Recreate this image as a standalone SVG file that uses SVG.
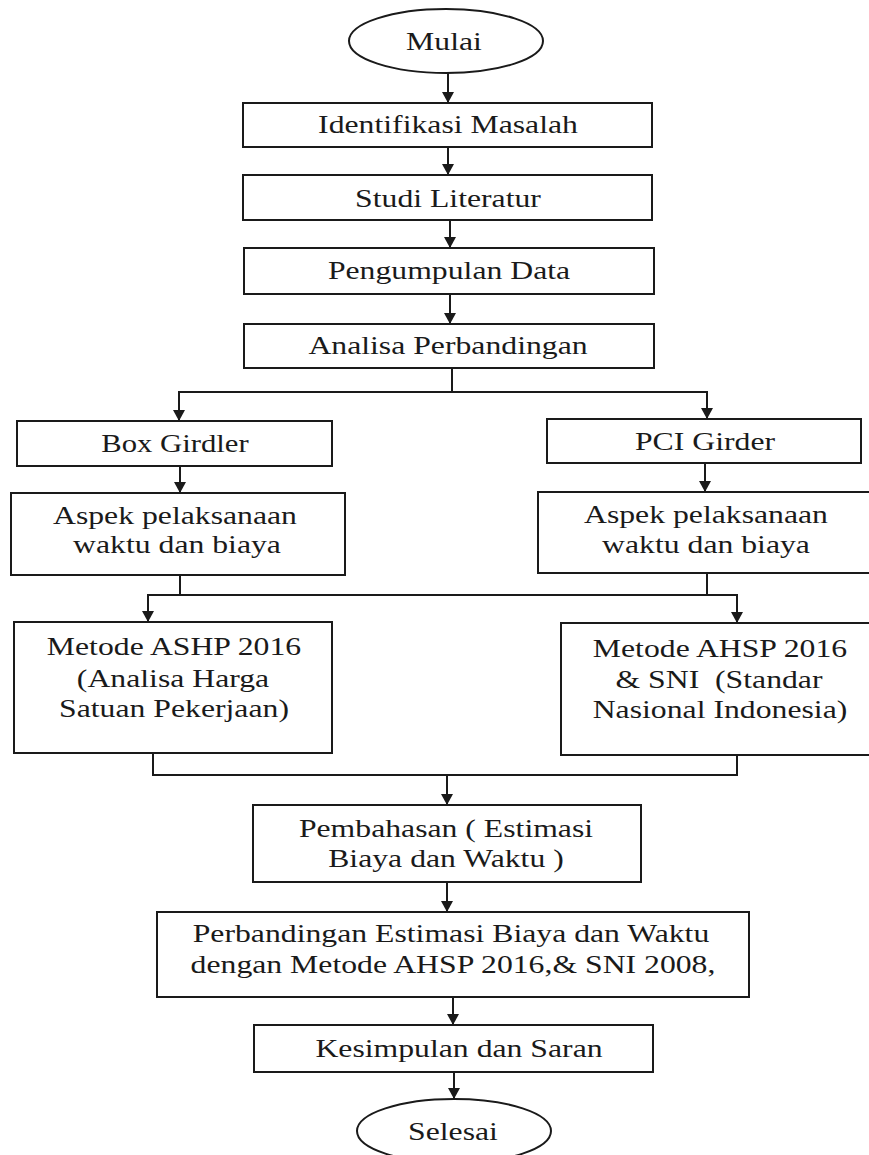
<svg xmlns="http://www.w3.org/2000/svg" width="869" height="1155" viewBox="0 0 869 1155">
<style>
.box{fill:#fff;stroke:#1a1a1a;stroke-width:2}
.ln{fill:none;stroke:#1a1a1a;stroke-width:2}
.t{font-family:"Liberation Serif","Times New Roman",serif;font-size:26px;fill:#1a1a1a;text-anchor:middle}
</style>
<defs>
<marker id="ah" viewBox="0 0 11 12" refX="11" refY="6" markerWidth="11" markerHeight="12" markerUnits="userSpaceOnUse" orient="auto">
<path d="M0,0 L11,6 L0,12 Z" fill="#1a1a1a"/>
</marker>
</defs>
<rect width="869" height="1155" fill="#fff"/>
<g id="connectors">
<path class="ln" d="M448,73 V103" marker-end="url(#ah)"/>
<path class="ln" d="M448,147 V175" marker-end="url(#ah)"/>
<path class="ln" d="M450,220 V248" marker-end="url(#ah)"/>
<path class="ln" d="M450,294 V324" marker-end="url(#ah)"/>
<path class="ln" d="M452,368 V392 H179 V421" marker-end="url(#ah)"/>
<path class="ln" d="M452,392 H707 V419" marker-end="url(#ah)"/>
<path class="ln" d="M180,466 V493" marker-end="url(#ah)"/>
<path class="ln" d="M705,463 V492" marker-end="url(#ah)"/>
<path class="ln" d="M180,575 V595 H148 V622" marker-end="url(#ah)"/>
<path class="ln" d="M180,595 H737 V623" marker-end="url(#ah)"/>
<path class="ln" d="M707,573 V595"/>
<path class="ln" d="M153,753 V775 H737 V754"/>
<path class="ln" d="M447,775 V805" marker-end="url(#ah)"/>
<path class="ln" d="M447,882 V912" marker-end="url(#ah)"/>
<path class="ln" d="M453,997 V1025" marker-end="url(#ah)"/>
<path class="ln" d="M454,1072 V1099" marker-end="url(#ah)"/>
</g>
<g id="mulai">
<ellipse class="box" cx="446" cy="41" rx="97" ry="32"/>
<text class="t" transform="translate(444,50) scale(1.22,1)">Mulai</text>
</g>
<g id="identifikasi">
<rect class="box" x="243" y="103" width="409" height="44"/>
<text class="t" transform="translate(448,133) scale(1.22,1)">Identifikasi Masalah</text>
</g>
<g id="studi">
<rect class="box" x="243" y="175" width="409" height="45"/>
<text class="t" transform="translate(448,207) scale(1.22,1)">Studi Literatur</text>
</g>
<g id="pengumpulan">
<rect class="box" x="244" y="248" width="410" height="46"/>
<text class="t" transform="translate(449,279) scale(1.22,1)">Pengumpulan Data</text>
</g>
<g id="analisa">
<rect class="box" x="244" y="324" width="410" height="44"/>
<text class="t" transform="translate(448,354) scale(1.22,1)">Analisa Perbandingan</text>
</g>
<g id="boxgirder">
<rect class="box" x="17" y="421" width="315" height="45"/>
<text class="t" transform="translate(175,452) scale(1.18,1)">Box Girdler</text>
</g>
<g id="pcigirder">
<rect class="box" x="547" y="419" width="314" height="44"/>
<text class="t" transform="translate(705,450) scale(1.22,1)">PCI Girder</text>
</g>
<g id="aspek-left">
<rect class="box" x="11" y="493" width="334" height="82"/>
<text class="t" transform="translate(175,524) scale(1.22,1)">Aspek pelaksanaan</text>
<text class="t" transform="translate(177,553) scale(1.22,1)">waktu dan biaya</text>
</g>
<g id="aspek-right">
<rect class="box" x="538" y="492" width="336" height="81"/>
<text class="t" transform="translate(706,523) scale(1.22,1)">Aspek pelaksanaan</text>
<text class="t" transform="translate(706,553) scale(1.22,1)">waktu dan biaya</text>
</g>
<g id="metode-ashp">
<rect class="box" x="14" y="622" width="318" height="131"/>
<text class="t" transform="translate(174,655) scale(1.22,1)">Metode ASHP 2016</text>
<text class="t" transform="translate(173,687) scale(1.22,1)">(Analisa Harga</text>
<text class="t" transform="translate(174,717) scale(1.22,1)">Satuan Pekerjaan)</text>
</g>
<g id="metode-ahsp">
<rect class="box" x="561" y="623" width="318" height="132"/>
<text class="t" transform="translate(720,657) scale(1.22,1)">Metode AHSP 2016</text>
<text class="t" xml:space="preserve" transform="translate(719,688) scale(1.22,1)">&amp; SNI  (Standar</text>
<text class="t" transform="translate(720,718) scale(1.22,1)">Nasional Indonesia)</text>
</g>
<g id="pembahasan">
<rect class="box" x="253" y="805" width="388" height="77"/>
<text class="t" transform="translate(446,837) scale(1.22,1)">Pembahasan ( Estimasi</text>
<text class="t" transform="translate(446,867) scale(1.22,1)">Biaya dan Waktu )</text>
</g>
<g id="perbandingan">
<rect class="box" x="157" y="912" width="592" height="85"/>
<text class="t" transform="translate(451,942) scale(1.22,1)">Perbandingan Estimasi Biaya dan Waktu</text>
<text class="t" transform="translate(453,973) scale(1.22,1)">dengan Metode AHSP 2016,&amp; SNI 2008,</text>
</g>
<g id="kesimpulan">
<rect class="box" x="254" y="1025" width="399" height="47"/>
<text class="t" transform="translate(459,1057) scale(1.22,1)">Kesimpulan dan Saran</text>
</g>
<g id="selesai">
<ellipse class="box" cx="454" cy="1131" rx="97" ry="32"/>
<text class="t" transform="translate(453,1140) scale(1.22,1)">Selesai</text>
</g>
</svg>
